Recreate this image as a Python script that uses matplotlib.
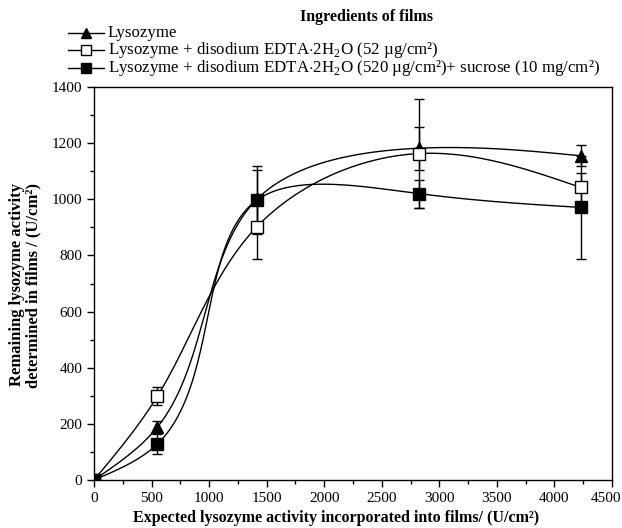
import matplotlib.pyplot as plt
import numpy as np
from matplotlib.ticker import MultipleLocator
from matplotlib.lines import Line2D
from matplotlib.transforms import ScaledTranslation

plt.rcParams["font.family"] = ["Liberation Serif", "DejaVu Serif"]
plt.rcParams["mathtext.fontset"] = "custom"
plt.rcParams["mathtext.rm"] = "Liberation Serif"

# data
expected = [0, 550, 1415, 2825, 4230]

lyso = [0, 188, 1000, 1182, 1155]
lyso_err = [0, 22, 105, 77, 38]

edta52 = [0, 298, 902, 1163, 1042]
edta52_err = [0, 32, 114, 193, 50]

edta520_suc = [0, 128, 997, 1020, 971]
edta520_suc_err = [0, 36, 120, 50, 183]

labels = [
    "Lysozyme",
    "Lysozyme + disodium EDTA$\\cdot$2H$_2$O (52 µg/cm²)",
    "Lysozyme + disodium EDTA$\\cdot$2H$_2$O (520 µg/cm²)+ sucrose (10 mg/cm²)",
]


def spline1d(t, v, ts):
    # natural cubic spline
    t = np.asarray(t, float)
    v = np.asarray(v, float)
    k = len(t)
    h = np.diff(t)
    A = np.zeros((k, k))
    b = np.zeros(k)
    A[0, 0] = 1
    A[-1, -1] = 1
    for i in range(1, k - 1):
        A[i, i - 1] = h[i - 1]
        A[i, i] = 2 * (h[i - 1] + h[i])
        A[i, i + 1] = h[i]
        b[i] = 6 * ((v[i + 1] - v[i]) / h[i] - (v[i] - v[i - 1]) / h[i - 1])
    M = np.linalg.solve(A, b)
    idx = np.clip(np.searchsorted(t, ts) - 1, 0, k - 2)
    t0, t1 = t[idx], t[idx + 1]
    hh = t1 - t0
    return (M[idx] * (t1 - ts) ** 3 / (6 * hh) + M[idx + 1] * (ts - t0) ** 3 / (6 * hh)
            + (v[idx] / hh - M[idx] * hh / 6) * (t1 - ts)
            + (v[idx + 1] / hh - M[idx + 1] * hh / 6) * (ts - t0))


def param_spline(x, y, n=400):
    # chord-length parametrisation, measured in axes units
    x = np.asarray(x, float)
    y = np.asarray(y, float)
    d = np.hypot(np.diff(x) / 4500 * 518, np.diff(y) / 1400 * 393)
    t = np.concatenate([[0], np.cumsum(d)])
    ts = np.linspace(0, t[-1], n)
    return spline1d(t, x, ts), spline1d(t, y, ts)


W, H = 622, 528
fig = plt.figure(figsize=(W / 100, H / 100), dpi=100)
ax = fig.add_axes([94 / W, 1 - 480 / H, (612 - 94) / W, (480 - 87) / H])

styles = [
    dict(marker="^", mfc="black", mec="black"),
    dict(marker="s", mfc="white", mec="black"),
    dict(marker="s", mfc="black", mec="black"),
]
series = [(lyso, lyso_err), (edta52, edta52_err), (edta520_suc, edta520_suc_err)]
for (vals, err), style in zip(series, styles):
    xs, ys = param_spline(expected, vals)
    ax.plot(xs, ys, color="black", lw=1.0, zorder=2)
    ax.errorbar(expected, vals, yerr=err, fmt="none", ecolor="black",
                elinewidth=1.0, capsize=3.3, capthick=1.0, zorder=3)
    ax.plot(expected, vals, ls="none", ms=8, mew=1.0, zorder=4, **style)

ax.set_xlim(0, 4500)
ax.set_ylim(0, 1400)
ax.xaxis.set_major_locator(MultipleLocator(500))
ax.xaxis.set_minor_locator(MultipleLocator(250))
ax.yaxis.set_major_locator(MultipleLocator(200))
ax.yaxis.set_minor_locator(MultipleLocator(100))
ax.tick_params(which="major", direction="out", length=5, width=1, labelsize=11)
ax.tick_params(which="minor", direction="out", length=3, width=1)
for s in ax.spines.values():
    s.set_linewidth(1.0)

fig.canvas.draw()
for tick in ax.xaxis.get_major_ticks():
    if abs(tick.get_loc() - 4500) < 1:
        lab = tick.label1
        lab.set_transform(lab.get_transform() + ScaledTranslation(-6 / 100, 0, fig.dpi_scale_trans))

fig.text(336 / W, 1 - 518 / H, "Expected lysozyme activity incorporated into films/ (U/cm²)",
         ha="center", va="center", fontweight="bold", fontsize=11.5)
fig.text(25 / W, 1 - 285 / H, "Remaining lysozyme activity\ndetermined in films / (U/cm²)",
         ha="center", va="center", rotation=90, fontweight="bold", fontsize=12,
         linespacing=1.0)

# legend drawn by hand above the axes
fig.text(367 / W, 1 - 17 / H, "Ingredients of films", ha="center", va="center",
         fontweight="bold", fontsize=11.5)
rows = [33, 50, 68]
for lab, style, r in zip(labels, styles, rows):
    yy = 1 - r / H
    fig.add_artist(Line2D([68 / W, 104 / W], [yy, yy], color="black", lw=1.0,
                          transform=fig.transFigure))
    fig.add_artist(Line2D([86 / W], [yy], ls="none", ms=7, mew=1.0,
                          transform=fig.transFigure, **style))
    fig.text(108 / W, yy, lab, ha="left", va="center", fontsize=12.2)

fig.savefig("out.png", dpi=100)
